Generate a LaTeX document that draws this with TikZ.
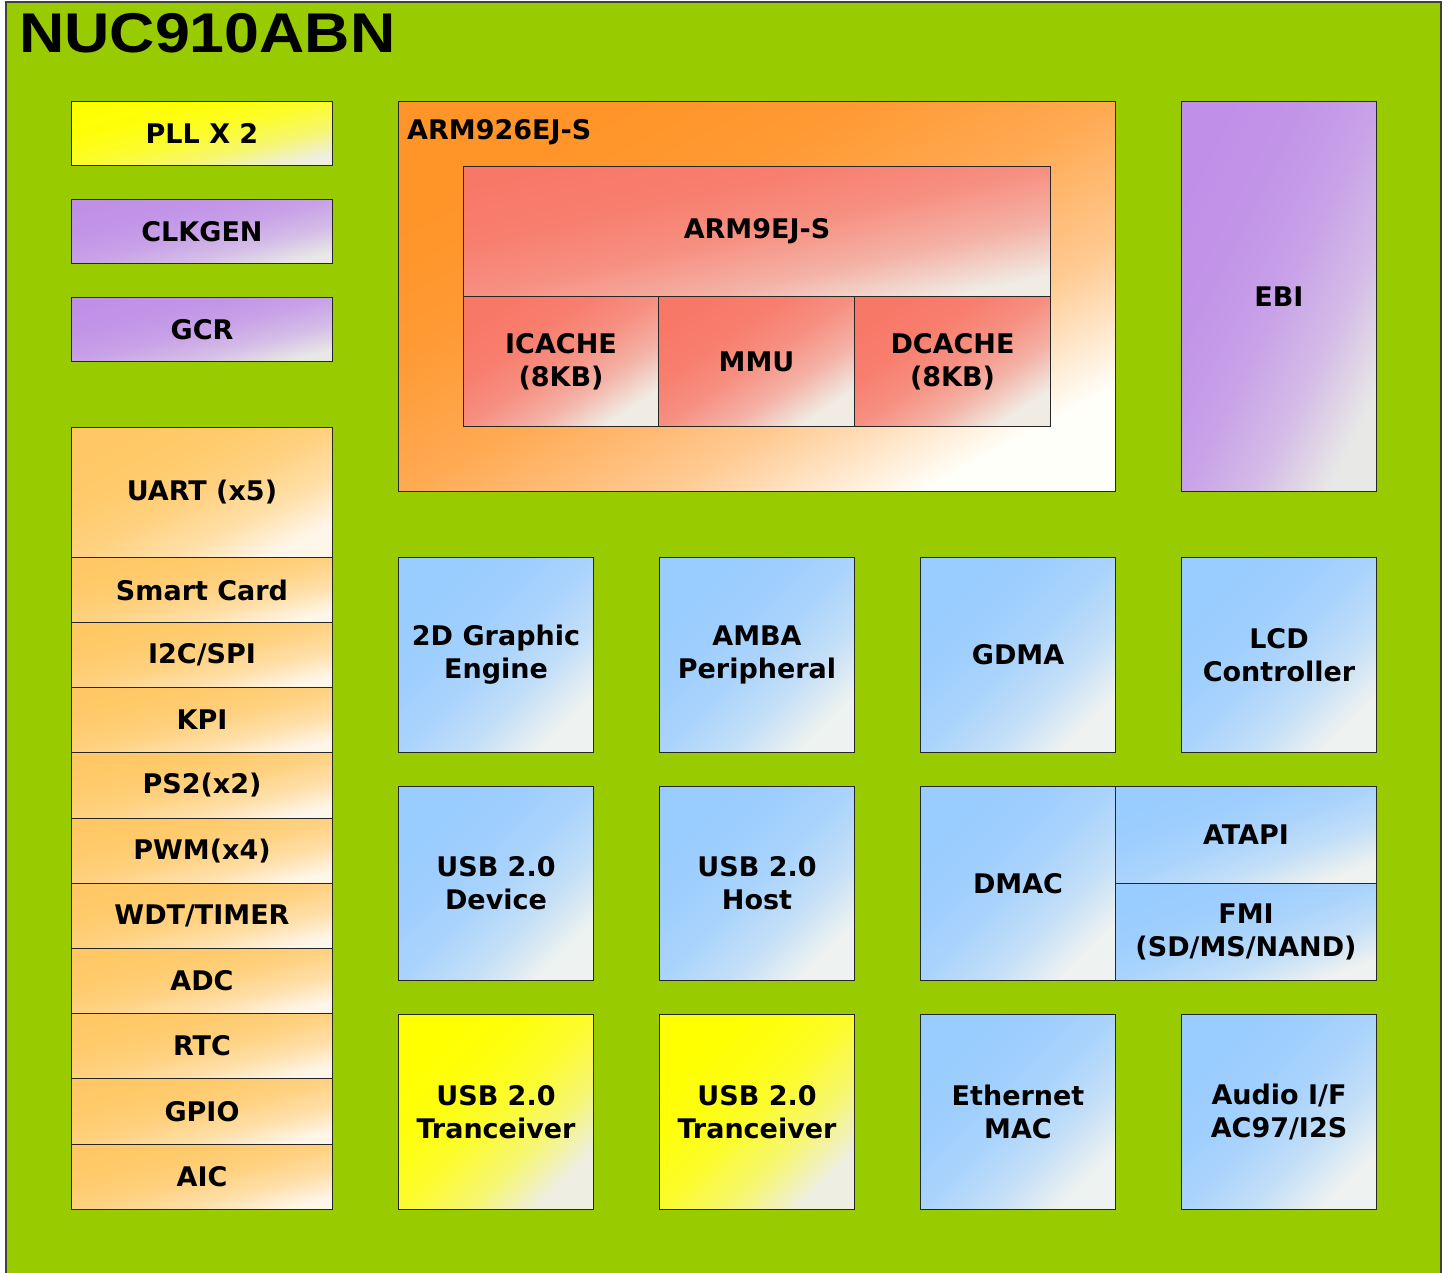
\documentclass[tikz,border=0pt]{standalone}
\usepackage{fontspec}
\newfontfamily\labfont{DejaVu Sans}
\newfontfamily\titlefont{Liberation Sans}
\definecolor{bggreen}{HTML}{99CC00}
\definecolor{yelA}{HTML}{FFFF00}\definecolor{yelB}{HTML}{EEEEE2}
\definecolor{purA}{HTML}{C090E8}\definecolor{purB}{HTML}{E8E8E6}
\definecolor{oraA}{HTML}{FFC865}\definecolor{oraB}{HTML}{FFF6EA}
\definecolor{armA}{HTML}{FF9428}\definecolor{armB}{HTML}{FFFFFA}
\definecolor{redA}{HTML}{F87868}\definecolor{redB}{HTML}{F0ECE4}
\definecolor{bluA}{HTML}{99CCFF}\definecolor{bluB}{HTML}{EEF2F0}
\newcommand\mkshade[3]{%
  \pgfdeclareverticalshading{#1}{100bp}{%
    color(0bp)=(#3); color(25bp)=(#3);
    color(31.25bp)=(#2!25!#3); color(37.5bp)=(#2!50!#3);
    color(50bp)=(#2!80!#3); color(62.5bp)=(#2!95!#3);
    color(75bp)=(#2); color(100bp)=(#2)}}
\mkshade{shyel}{yelA}{yelB}
\mkshade{shpur}{purA}{purB}
\mkshade{shora}{oraA}{oraB}
\mkshade{sharm}{armA}{armB}
\mkshade{shred}{redA}{redB}
\mkshade{shblu}{bluA}{bluB}
\tikzset{
  boxy/.style={draw=black!85, line width=1pt, rectangle, anchor=north west, inner sep=0pt,
    align=center, font=\labfont\bfseries\fontsize{27pt}{33pt}\selectfont},
  cyel/.style={shade, shading=shyel},
  cpur/.style={shade, shading=shpur},
  cora/.style={shade, shading=shora},
  carm/.style={shade, shading=sharm},
  cred/.style={shade, shading=shred},
  cblu/.style={shade, shading=shblu},
  wh/.style 2 args={minimum width=#1pt, minimum height=#2pt, shading angle={atan(#2/#1)}}
}
\begin{document}
\begin{tikzpicture}[x=1pt,y=-1pt]
\useasboundingbox (0,0) rectangle (1448,1272);
\fill[white] (0,0) rectangle (1448,1272);
\begin{scope}
\clip (0,0) rectangle (1448,1272);
\draw[draw=black!75, line width=1.5pt, fill=bggreen] (6,2) rectangle (1441,1290);
\end{scope}
\node[anchor=base west, font=\titlefont\bfseries\fontsize{56pt}{60pt}\selectfont, xscale=1.12, inner sep=0pt] (title) at (19,52) {NUC910ABN};

% left column
\node[boxy,cyel,wh={261}{64}] (pll) at (71,101) {PLL X 2};
\node[boxy,cpur,wh={261}{64}] (clk) at (71,199) {CLKGEN};
\node[boxy,cpur,wh={261}{64}] (gcr) at (71,297) {GCR};
\node[boxy,cora,wh={261}{130}] (uart) at (71,427) {UART (x5)};
\node[boxy,cora,wh={261}{65}] (smart) at (71,557) {Smart Card};
\node[boxy,cora,wh={261}{65}] (i2c) at (71,622) {I2C/SPI};
\node[boxy,cora,wh={261}{65}] (kpi) at (71,687) {KPI};
\node[boxy,cora,wh={261}{66}] (ps2) at (71,752) {PS2(x2)};
\node[boxy,cora,wh={261}{65}] (pwm) at (71,818) {PWM(x4)};
\node[boxy,cora,wh={261}{65}] (wdt) at (71,883) {WDT/TIMER};
\node[boxy,cora,wh={261}{65}] (adc) at (71,948) {ADC};
\node[boxy,cora,wh={261}{65}] (rtc) at (71,1013) {RTC};
\node[boxy,cora,wh={261}{66}] (gpio) at (71,1078) {GPIO};
\node[boxy,cora,wh={261}{65}] (aic) at (71,1144) {AIC};

% ARM core
\node[boxy,carm,wh={717}{390}] (arm926) at (398,101) {};
\node[anchor=west, inner sep=0pt, font=\labfont\bfseries\fontsize{27pt}{33pt}\selectfont] (arm926lbl) at (407,132) {ARM926EJ-S};
\node[boxy,cred,wh={587}{130}] (arm9) at (463,166) {ARM9EJ-S};
\node[boxy,cred,wh={195}{130}] (icache) at (463,296) {ICACHE\\(8KB)};
\node[boxy,cred,wh={196}{130}] (mmu) at (658,296) {MMU};
\node[boxy,cred,wh={196}{130}] (dcache) at (854,296) {DCACHE\\(8KB)};
\node[boxy,cpur,wh={195}{390}] (ebi) at (1181,101) {EBI};

% row 2
\node[boxy,cblu,wh={195}{195}] (gfx) at (398,557) {2D Graphic\\Engine};
\node[boxy,cblu,wh={195}{195}] (amba) at (659,557) {AMBA\\Peripheral};
\node[boxy,cblu,wh={195}{195}] (gdma) at (920,557) {GDMA};
\node[boxy,cblu,wh={195}{195}] (lcd) at (1181,557) {LCD\\Controller};

% row 3
\node[boxy,cblu,wh={195}{194}] (usbdev) at (398,786) {USB 2.0\\Device};
\node[boxy,cblu,wh={195}{194}] (usbhost) at (659,786) {USB 2.0\\Host};
\node[boxy,cblu,wh={195}{194}] (dmac) at (920,786) {DMAC};
\node[boxy,cblu,wh={261}{97}] (atapi) at (1115,786) {ATAPI};
\node[boxy,cblu,wh={261}{97}] (fmi) at (1115,883) {FMI\\(SD/MS/NAND)};

% row 4
\node[boxy,cyel,wh={195}{195}] (tr1) at (398,1014) {USB 2.0\\Tranceiver};
\node[boxy,cyel,wh={195}{195}] (tr2) at (659,1014) {USB 2.0\\Tranceiver};
\node[boxy,cblu,wh={195}{195}] (eth) at (920,1014) {Ethernet\\MAC};
\node[boxy,cblu,wh={195}{195}] (audio) at (1181,1014) {Audio I/F\\AC97/I2S};
\end{tikzpicture}
\end{document}
